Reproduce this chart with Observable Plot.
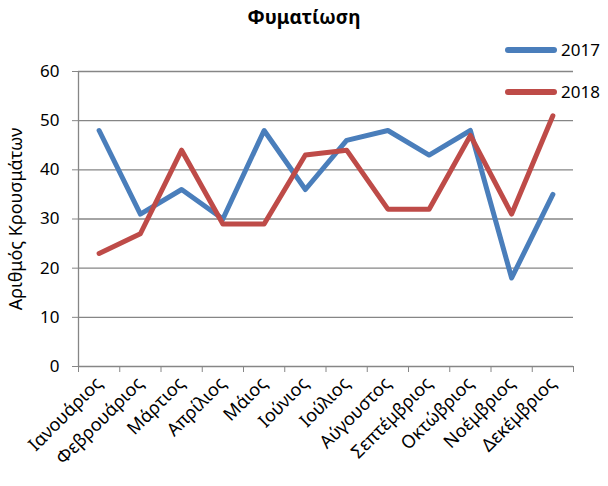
<!DOCTYPE html>
<html><head><meta charset="utf-8">
<script src="https://cdn.jsdelivr.net/npm/d3@7"></script>
<script src="https://cdn.jsdelivr.net/npm/@observablehq/plot@0.6"></script>
<style>
body{margin:0;background:#fff;font-family:"Noto Sans",sans-serif;}
#wrap{position:relative;width:608px;height:486px;}
#title{position:absolute;left:0;width:608px;top:4px;text-align:center;font-weight:bold;font-size:19px;padding-left:0px;}
.leg{position:absolute;left:505px;font-size:17px;display:flex;align-items:center;}
.leg span.sw{display:inline-block;width:52px;height:6px;border-radius:3px;margin-right:4px;}
</style></head>
<body><div id="wrap"><div id="title">Φυματίωση</div></div>
<script>
const months = ["Ιανουάριος","Φεβρουάριος","Μάρτιος","Απρίλιος","Μάιος","Ιούνιος","Ιούλιος","Αύγουστος","Σεπτέμβριος","Οκτώβριος","Νοέμβριος","Δεκέμβριος"];
const series = ["2017","2018"];
const v2017 = [48,31,36,30,48,36,46,48,43,48,18,35];
const v2018 = [23,27,44,29,29,43,44,32,32,47,31,51];
const colors = ["#4a7ebb","#be4b48"];
const yTicks = [0,10,20,30,40,50,60];

const data = [];
[v2017, v2018].forEach((vals, s) => vals.forEach((v, i) => data.push({series: series[s], i, month: months[i], value: v})));

const chart = Plot.plot({
  width: 608, height: 486,
  marginTop: 71, marginBottom: 120, marginLeft: 78, marginRight: 35,
  style: {fontFamily: '"Noto Sans", sans-serif', fontSize: "16px", color: "#000"},
  x: {domain: [0, months.length]},
  y: {domain: [0, 60]},
  color: {domain: series, range: colors},
  marks: [
    Plot.gridY(yTicks.filter(d => d > 0), {stroke: "#868686", strokeOpacity: 1, strokeWidth: 1.3}),
    Plot.axisY(yTicks, {tickSize: 6, stroke: "#868686", tickPadding: 13, fontSize: 17, label: null}),
    Plot.axisX(d3.range(months.length + 1), {tickSize: 6, stroke: "#868686", tickFormat: () => "", label: null}),
    Plot.axisX(d3.range(months.length).map(i => i + 0.5), {tickSize: 0, tickFormat: d => months[d - 0.5], tickRotate: -45, tickPadding: 14, fontSize: 18, label: null}),
    Plot.ruleX([0], {stroke: "#868686", strokeWidth: 1.3}),
    Plot.ruleY([0], {stroke: "#868686", strokeWidth: 1.3}),
    Plot.line(data, {x: d => d.i + 0.5, y: "value", stroke: "series", strokeWidth: 5, strokeLinejoin: "round", strokeLinecap: "round"}),
    Plot.text(["Αριθμός Κρουσμάτων"], {frameAnchor: "left", textAnchor: "middle", dx: -62, rotate: -90, fontSize: 18, text: d => d})
  ]
});
const wrap = document.getElementById("wrap");
wrap.appendChild(chart);
chart.style.position = "absolute"; chart.style.left = "0"; chart.style.top = "0";
const legTops = [38, 80];
series.forEach((s, k) => {
  const d = document.createElement("div");
  d.className = "leg";
  d.style.top = legTops[k] + "px";
  d.innerHTML = `<span class="sw" style="background:${colors[k]}"></span>${s}`;
  wrap.appendChild(d);
});
</script></body></html>
